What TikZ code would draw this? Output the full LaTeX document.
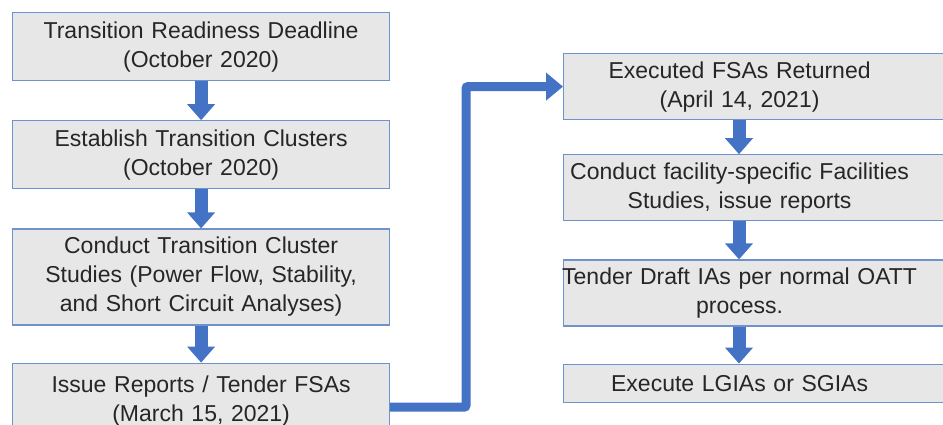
\documentclass[tikz,border=0pt]{standalone}
\usepackage{fontspec}
\setmainfont{Liberation Sans}
\usetikzlibrary{positioning, arrows.meta}

\definecolor{boxfill}{HTML}{E7E7E7}
\definecolor{boxedge}{HTML}{7092CC}
\definecolor{flowblue}{HTML}{4472C4}
\definecolor{inkgray}{HTML}{262626}

\begin{document}
\begin{tikzpicture}[node distance=39pt,
  box/.style={draw=boxedge, fill=boxfill, line width=1.2pt, text=inkgray,
    font=\fontsize{23pt}{29pt}\selectfont, minimum height=68pt,
    inner xsep=0pt, inner ysep=0pt},
  lbox/.style={box, text width=377pt, align=center},
  rbox/.style={box, text width=440pt, align=left, minimum height=66pt,
    execute at begin node={\begin{minipage}{352pt}\centering},
    execute at end node={\end{minipage}}},
  flow/.style={draw=flowblue, line width=13pt, -{Triangle[width=27pt,length=16pt]}},
  bigflow/.style={draw=flowblue, line width=9pt, rounded corners=2pt,
    -{Triangle[width=27pt,length=17pt]}}]
  \clip (0,0) rectangle (943pt,-425pt);

  % left column
  \node[lbox, anchor=north west] (l1) at (12pt,-12pt) {Transition Readiness Deadline\\(October 2020)};
  \node[lbox] (l2) [below=of l1] {Establish Transition Clusters\\(October 2020)};
  \node[lbox, minimum height=96pt] (l3) [below=of l2] {Conduct Transition Cluster\\Studies (Power Flow, Stability,\\and Short Circuit Analyses)};
  \node[lbox, minimum height=76pt] (l4) [below=37pt of l3] {Issue Reports / Tender FSAs\\(March 15, 2021)};

  % right column
  \node[rbox, anchor=north west] (r1) at (563pt,-53pt) {Executed FSAs Returned\\(April 14, 2021)};
  \node[rbox] (r2) [below=34pt of r1] {Conduct facility-specific Facilities\\Studies, issue reports};
  \node[rbox] (r3) [below=38pt of r2] {\makebox[352pt]{Tender Draft IAs per normal OATT}\\process.};
  \node[rbox, minimum height=38pt] (r4) [below=37pt of r3] {Execute LGIAs or SGIAs};

  \foreach \a/\b in {l1/l2, l2/l3, l3/l4}
    \draw[flow] (\a.south) -- (\b.north);
  \foreach \a/\b in {r1/r2, r2/r3, r3/r4}
    \draw[flow] ([xshift=176pt]\a.south west) -- ([xshift=176pt]\b.north west);

  \coordinate (bend) at (466pt,-200pt);
  \draw[bigflow] ([yshift=-6pt]l4.east) -| (bend) |- (r1.west);
\end{tikzpicture}
\end{document}
